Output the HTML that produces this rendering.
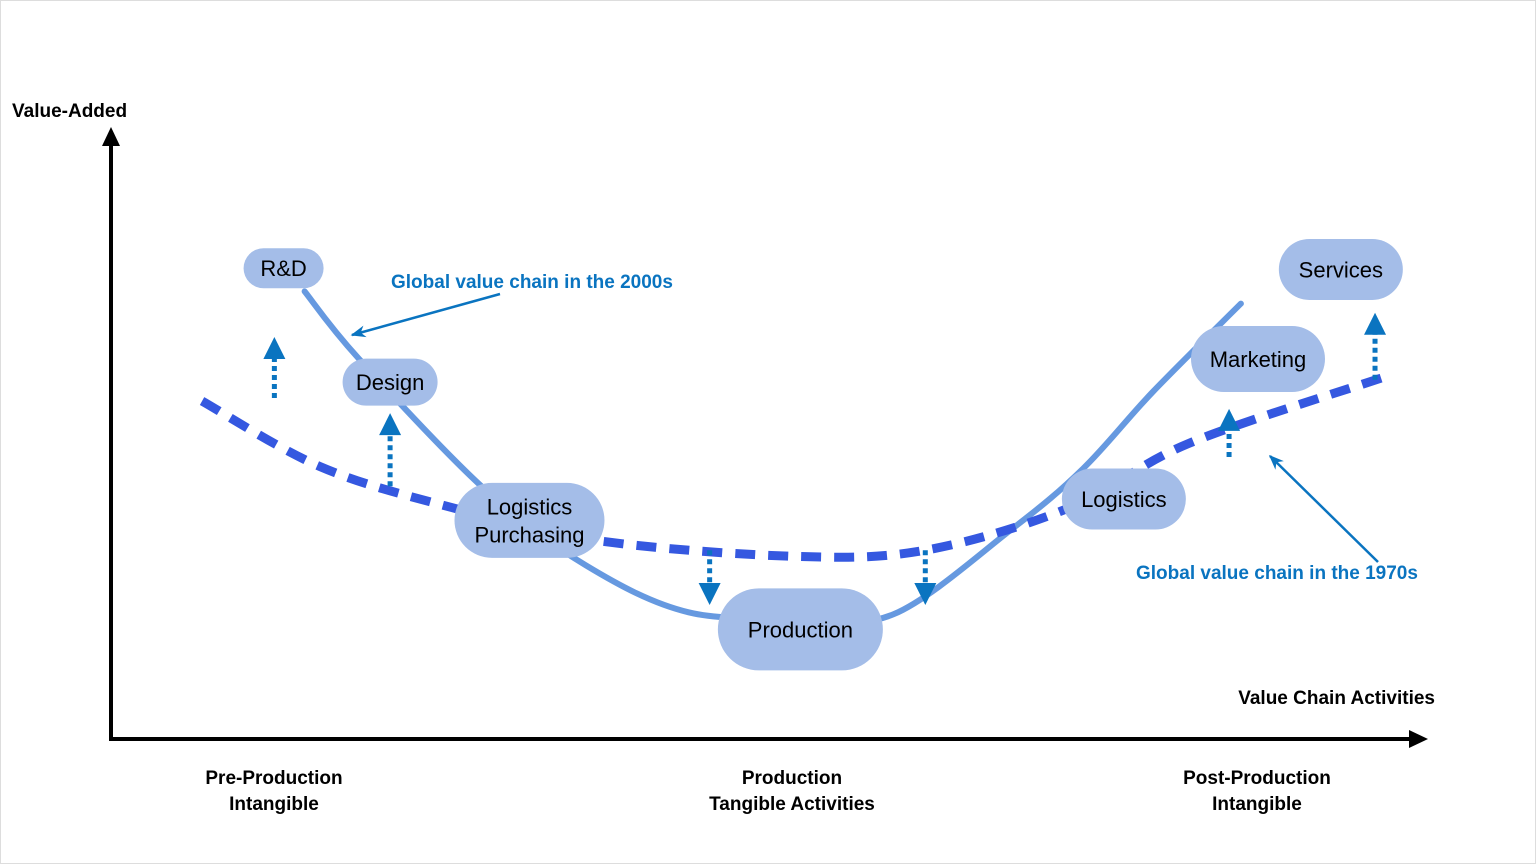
<!DOCTYPE html>
<html><head><meta charset="utf-8"><style>
html,body{margin:0;padding:0;background:#fff}
svg{display:block;font-family:"Liberation Sans",Arial,sans-serif}
</style></head><body>
<svg width="1536" height="864" viewBox="0 0 1536 864" xmlns="http://www.w3.org/2000/svg">
<rect x="0.5" y="0.5" width="1535" height="863" fill="#fff" stroke="#ddd"/>
<defs>
<marker id="ah" viewBox="0 0 10 10" refX="9" refY="5" markerWidth="8" markerHeight="8" orient="auto"><path d="M0,0L10,5L0,10z" fill="#000"/></marker>
<marker id="ab" viewBox="0 0 10 10" refX="9" refY="5" markerWidth="6" markerHeight="6" orient="auto"><path d="M0,1L10,5L0,9L3,5z" fill="#0a74c0"/></marker>
</defs>
<g id="axes">
<line x1="111" y1="740" x2="111" y2="140" stroke="#000" stroke-width="4"/>
<path d="M111,127L102,146L120,146z" fill="#000"/>
<line x1="109" y1="739" x2="1412" y2="739" stroke="#000" stroke-width="4"/>
<path d="M1428,739L1409,730L1409,748z" fill="#000"/>
<text x="12" y="117" font-size="19" font-weight="bold">Value-Added</text>
<text x="1435" y="704" font-size="19" font-weight="bold" text-anchor="end">Value Chain Activities</text>
<g font-size="19" font-weight="bold" text-anchor="middle">
<text x="274" y="784">Pre-Production</text>
<text x="274" y="810">Intangible</text>
<text x="792" y="784">Production</text>
<text x="792" y="810">Tangible Activities</text>
<text x="1257" y="784">Post-Production</text>
<text x="1257" y="810">Intangible</text>
</g>
</g>
<g id="series"></g>
<g id="arrows"></g>
<g id="pills"></g>
<g>
<text x="391" y="288" font-size="19" font-weight="bold" fill="#0a74c0">Global value chain in the 2000s</text>
<line x1="500" y1="294" x2="352" y2="335" stroke="#0a74c0" stroke-width="2.5" marker-end="url(#ab)"/>
<text x="1136" y="579" font-size="19" font-weight="bold" fill="#0a74c0">Global value chain in the 1970s</text>
<line x1="1378" y1="562" x2="1270" y2="456" stroke="#0a74c0" stroke-width="2.5" marker-end="url(#ab)"/>
</g>
</svg>
<script>
// data units: x = position along value chain (0..100), y = value added (0..100)
const curve2000sX = [14.8, 18.9, 28.5, 36.2, 44, 52.5, 59.6, 68.6, 74, 79.3, 86];
const curve2000sY = [73.5, 62.5, 41, 28.5, 20.8, 20, 20.5, 34.5, 44.4, 57, 71.5];
const curve1970sX = [7, 16, 26, 37, 52, 62, 73, 82, 97];
const curve1970sY = [55.5, 44.7, 38, 32.6, 30, 31, 38, 48.5, 59.5];
const upArrowX = [12.5, 21.3, 85.1, 96.2];
const upArrowFrom = [56, 41.5, 46.3, 59];
const upArrowTo = [66, 53.5, 54.2, 70];
const downArrowX = [45.6, 62];
const downArrowFrom = [31, 31];
const downArrowTo = [22, 22];
const pillLabels = [["R&D"],["Design"],["Logistics","Purchasing"],["Production"],["Logistics"],["Marketing"],["Services"]];
const pillX = [13.2, 21.3, 31.9, 52.5, 77.1, 87.3, 93.6];
const pillY = [77.3, 58.6, 35.9, 18, 39.4, 62.4, 77.1];
const pillW = [80, 95, 150, 165, 124, 134, 124];
const pillH = [40, 47, 75, 82, 61, 66, 61];

const xS = v => 110 + v * 13.15;
const yS = v => 739 - v * 6.09;
const NS = 'http://www.w3.org/2000/svg';
function mk(tag, attrs, parent){const e=document.createElementNS(NS,tag);for(const k in attrs)e.setAttribute(k,attrs[k]);parent.appendChild(e);return e;}
function smooth(xs, ys){
  const p = xs.map((x,i)=>[xS(x),yS(ys[i])]);
  let d = `M${p[0][0]},${p[0][1]}`;
  for(let i=0;i<p.length-1;i++){
    const p0=p[i-1]||p[i],p1=p[i],p2=p[i+1],p3=p[i+2]||p2;
    d+=`C${p1[0]+(p2[0]-p0[0])/6},${p1[1]+(p2[1]-p0[1])/6} ${p2[0]-(p3[0]-p1[0])/6},${p2[1]-(p3[1]-p1[1])/6} ${p2[0]},${p2[1]}`;
  }
  return d;
}
const series=document.getElementById('series');
const s2=mk('path',{d:smooth(curve2000sX,curve2000sY),fill:'none',stroke:'#6699e0','stroke-width':6,'stroke-linecap':'round'},series);


const s1=mk('path',{d:smooth(curve1970sX,curve1970sY),fill:'none',stroke:'#3558e0','stroke-width':9,'stroke-dasharray':'20 13'},series);



const arrows=document.getElementById('arrows');
function arrow(x,f,t,name){
  const g=mk('g',{},arrows);
  
  
  const X=xS(x),Y1=yS(f),Y2=yS(t),dir=Y2<Y1?-1:1;
  mk('line',{x1:X,y1:Y1,x2:X,y2:Y2-dir*20,stroke:'#0a74c0','stroke-width':5,'stroke-dasharray':'5 4'},g);
  mk('path',{d:`M${X},${Y2}L${X-11},${Y2-dir*22}L${X+11},${Y2-dir*22}z`,fill:'#0a74c0'},g);
}
upArrowX.forEach((x,i)=>arrow(x,upArrowFrom[i],upArrowTo[i],'up-arrow-'+(i+1)));
downArrowX.forEach((x,i)=>arrow(x,downArrowFrom[i],downArrowTo[i],'down-arrow-'+(i+1)));

const pills=document.getElementById('pills');
pillLabels.forEach((lab,i)=>{
  const g=mk('g',{},pills);
  
  
  const cx=xS(pillX[i]),cy=yS(pillY[i]),w=pillW[i],h=pillH[i];
  mk('rect',{x:cx-w/2,y:cy-h/2,width:w,height:h,rx:h/2,ry:h/2,fill:'#a4bde8'},g);
  lab.forEach((t,j)=>{
    const tx=mk('text',{x:cx,y:cy+8+(j-(lab.length-1)/2)*28,'text-anchor':'middle','font-size':22,fill:'#000'},g);
    tx.textContent=t;
  });
});
</script>
</body></html>
